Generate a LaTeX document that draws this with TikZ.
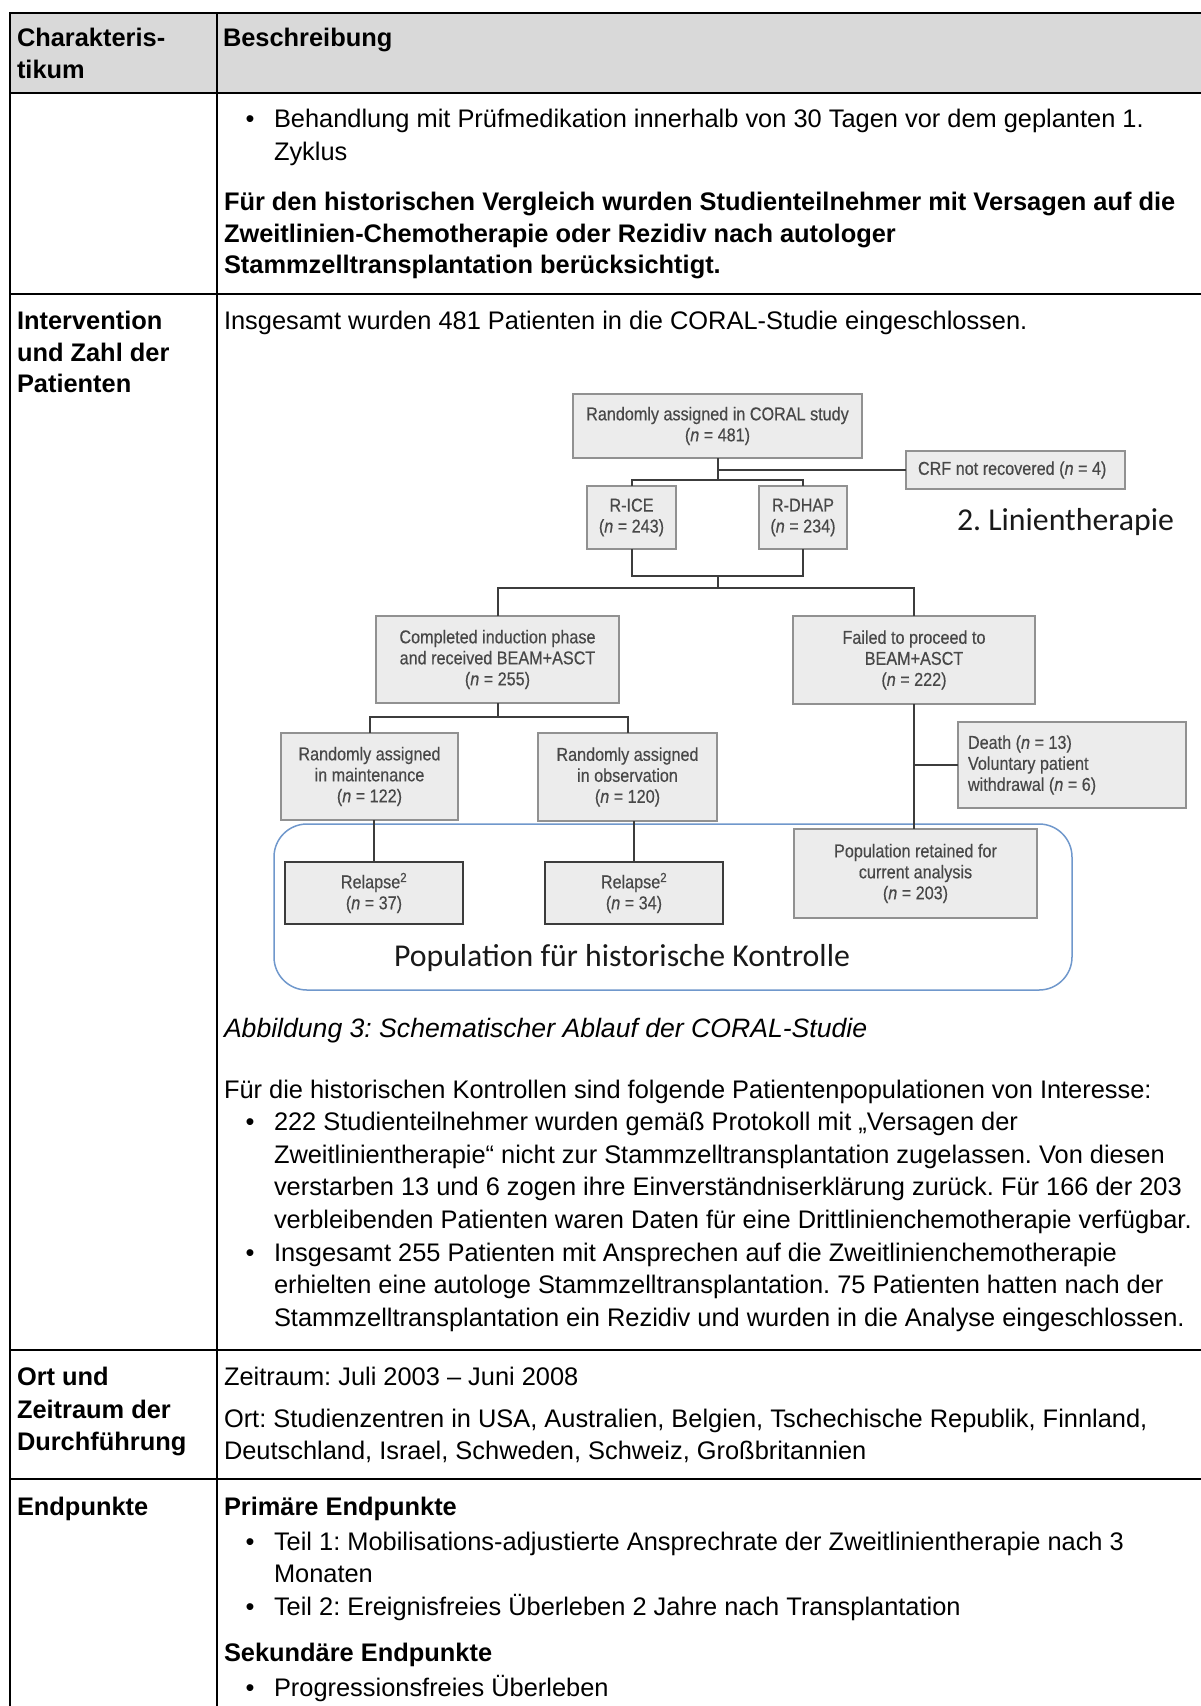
\documentclass[tikz,border=0pt]{standalone}
\usepackage{fontspec}
\setmainfont{Liberation Sans}
\newfontfamily\flowfont{Liberation Sans}[FakeStretch=0.87,FakeBold=0.4]
\newfontfamily\calfont{Carlito}
\usetikzlibrary{calc}
\frenchspacing
\definecolor{hdrfill}{RGB}{217,217,217}
\definecolor{boxfill}{RGB}{236,236,236}
\definecolor{boxline}{RGB}{145,145,145}
\definecolor{flowtext}{RGB}{72,72,72}
\definecolor{connline}{RGB}{60,60,60}
\definecolor{popblue}{RGB}{112,152,204}
\newcommand{\bodysize}{\fontsize{25.4}{32}\selectfont}
\newcommand{\flowsize}{\fontsize{18.6}{21}\selectfont}
\tikzset{
  tline/.style={line width=2pt, draw=black},
  txt/.style={anchor=base west, inner sep=0pt, outer sep=0pt, font=\bodysize},
  btxt/.style={txt, font=\bodysize\bfseries},
  itxt/.style={txt, font=\fontsize{26.6}{32}\selectfont\itshape},
  flowbox/.style={draw=boxline, fill=boxfill, line width=1.3pt, inner sep=0pt, outer sep=0pt,
    anchor=north west, align=center, text=flowtext, font=\flowfont\flowsize},
  relbox/.style={flowbox, draw=connline, line width=2.5pt},
  conn/.style={draw=connline, line width=2pt},
  bigtxt/.style={anchor=base west, inner sep=0pt, outer sep=0pt, font=\calfont\fontsize{31.8}{36}\selectfont, text=black!90}
}
\begin{document}
\frenchspacing
\begin{tikzpicture}[x=1pt,y=-1pt]
\useasboundingbox (0,0) rectangle (1201,1706);
\fill[white] (0,0) rectangle (1201,1706);
% header fill
\fill[hdrfill] (10,13.3) rectangle (1201,93.3);
% table lines
\draw[tline] (9,13.3) -- (1201,13.3);
\draw[tline] (9,93.3) -- (1201,93.3);
\draw[tline] (9,293.5) -- (1201,293.5);
\draw[tline] (9,1350) -- (1201,1350);
\draw[tline] (9,1479.3) -- (1201,1479.3);
\draw[tline] (10,12.3) -- (10,1706);
\draw[tline] (216.7,12.3) -- (216.7,1706);

% header
\node[btxt] (h1a) at (17,46.5) {Charakteris-};
\node[btxt] (h1b) at (17,78.5) {tikum};
\node[btxt] (h2) at (223,46.5) {Beschreibung};

% row 1
\node[txt] (r1b) at (245.6,127.5) {•};
\node[txt] (r1l1) at (274,127.5) {Behandlung mit Prüfmedikation innerhalb von 30 Tagen vor dem geplanten 1.};
\node[txt] (r1l2) at (274,160) {Zyklus};
\node[btxt] (r1l3) at (224,210.5) {Für den historischen Vergleich wurden Studienteilnehmer mit Versagen auf die};
\node[btxt] (r1l4) at (224,242) {Zweitlinien-Chemotherapie oder Rezidiv nach autologer};
\node[btxt] (r1l5) at (224,273.5) {Stammzelltransplantation berücksichtigt.};

% row 2
\node[btxt] (r2a) at (17,329) {Intervention};
\node[btxt] (r2b) at (17,361) {und Zahl der};
\node[btxt] (r2c) at (17,392.7) {Patienten};
\node[txt] (r2t) at (224,329) {Insgesamt wurden 481 Patienten in die CORAL-Studie eingeschlossen.};

% flowchart
\node[draw=popblue, line width=1.5pt, rounded corners=33pt, minimum width=798, minimum height=166,
  anchor=north west, inner sep=0pt, outer sep=0pt] (popframe) at (274,824) {};

\node[flowbox, minimum width=289, minimum height=64] (top) at (573,394)
  {Randomly assigned in CORAL study\\(\textit{n} = 481)};
\node[flowbox, minimum width=219, minimum height=38] (crf) at (906,451)
  {\makebox[195pt][l]{CRF not recovered (\textit{n} = 4)}};
\node[flowbox, minimum width=89, minimum height=63] (rice) at (587,486)
  {R-ICE\\(\textit{n} = 243)};
\node[flowbox, minimum width=88, minimum height=63] (rdhap) at (759,486)
  {R-DHAP\\(\textit{n} = 234)};
\node[flowbox, minimum width=243, minimum height=87] (comp) at (376,616)
  {Completed induction phase\\and received BEAM+ASCT\\(\textit{n} = 255)};
\node[flowbox, minimum width=242, minimum height=88] (fail) at (793,616)
  {Failed to proceed to\\BEAM+ASCT\\(\textit{n} = 222)};
\node[flowbox, minimum width=177, minimum height=87] (maint) at (281,733)
  {Randomly assigned\\in maintenance\\(\textit{n} = 122)};
\node[flowbox, minimum width=179, minimum height=88] (obs) at (538,733)
  {Randomly assigned\\in observation\\(\textit{n} = 120)};
\node[flowbox, minimum width=228, minimum height=86] (death) at (958,722)
  {\makebox[208pt][l]{Death (\textit{n} = 13)}\\\makebox[208pt][l]{Voluntary patient}\\\makebox[208pt][l]{withdrawal (\textit{n} = 6)}};
\node[flowbox, minimum width=243, minimum height=89] (pop) at (794,829)
  {Population retained for\\current analysis\\(\textit{n} = 203)};
\node[relbox, minimum width=178, minimum height=62] (rel1) at (285,862)
  {Relapse\textsuperscript{2}\\(\textit{n} = 37)};
\node[relbox, minimum width=178, minimum height=62] (rel2) at (545,862)
  {Relapse\textsuperscript{2}\\(\textit{n} = 34)};

\coordinate (j1) at (717.5,480);
\coordinate (j2) at (717.5,576);
\coordinate (j3) at (717.5,588);
\coordinate (j4) at (497.5,717);

\draw[conn] (top.south) -- (j1);
\draw[conn] (top.south |- crf.west) -- (crf.west);
\draw[conn] (rice.north) |- (j1) -| (rdhap.north);
\draw[conn] (rice.south) |- (j2) -| (rdhap.south);
\draw[conn] (j2) -- (j3);
\draw[conn] (comp.north) |- (j3) -| (fail.north);
\draw[conn] (comp.south) -- (j4);
\draw[conn] (maint.north) |- (j4) -| (obs.north);
\draw[conn] (rel1.north |- maint.south) -- (rel1.north);
\draw[conn] (rel2.north |- obs.south) -- (rel2.north);
\draw[conn] (fail.south) -- (fail.south |- pop.north);
\draw[conn, line width=1.5pt] (fail.south |- death.west) -- (death.west);

\node[bigtxt] (linlabel) at (957,530) {2. Linientherapie};
\node[bigtxt] (poplabel) at (394,966.7) {Population für historische Kontrolle};

% caption and text below
\node[itxt] (cap) at (224,1037) {Abbildung 3: Schematischer Ablauf der CORAL-Studie};
\node[txt] (r2u) at (224,1098) {Für die historischen Kontrollen sind folgende Patientenpopulationen von Interesse:};
\node[txt] (r2b1) at (245.6,1130.5) {•};
\node[txt] (r2l1) at (274,1130.5) {222 Studienteilnehmer wurden gemäß Protokoll mit „Versagen der};
\node[txt] (r2l2) at (274,1163) {Zweitlinientherapie“ nicht zur Stammzelltransplantation zugelassen. Von diesen};
\node[txt] (r2l3) at (274,1195.5) {verstarben 13 und 6 zogen ihre Einverständniserklärung zurück. Für 166 der 203};
\node[txt] (r2l4) at (274,1228) {verbleibenden Patienten waren Daten für eine Drittlinienchemotherapie verfügbar.};
\node[txt] (r2b2) at (245.6,1261) {•};
\node[txt] (r2l5) at (274,1261) {Insgesamt 255 Patienten mit Ansprechen auf die Zweitlinienchemotherapie};
\node[txt] (r2l6) at (274,1293.5) {erhielten eine autologe Stammzelltransplantation. 75 Patienten hatten nach der};
\node[txt] (r2l7) at (274,1326) {Stammzelltransplantation ein Rezidiv und wurden in die Analyse eingeschlossen.};

% row 3
\node[btxt] (r3a) at (17,1385.7) {Ort und};
\node[btxt] (r3b) at (17,1418.3) {Zeitraum der};
\node[btxt] (r3c) at (17,1450.9) {Durchführung};
\node[txt] (r3l1) at (224,1385.7) {Zeitraum: Juli 2003 – Juni 2008};
\node[txt] (r3l2) at (224,1427.3) {Ort: Studienzentren in USA, Australien, Belgien, Tschechische Republik, Finnland,};
\node[txt] (r3l3) at (224,1459) {Deutschland, Israel, Schweden, Schweiz, Großbritannien};

% row 4
\node[btxt] (r4a) at (17,1515.7) {Endpunkte};
\node[btxt] (r4h1) at (224,1515.7) {Primäre Endpunkte};
\node[txt] (r4b1) at (245.6,1550) {•};
\node[txt] (r4l1) at (274,1550) {Teil 1: Mobilisations-adjustierte Ansprechrate der Zweitlinientherapie nach 3};
\node[txt] (r4l2) at (274,1582.5) {Monaten};
\node[txt] (r4b2) at (245.6,1615.5) {•};
\node[txt] (r4l3) at (274,1615.5) {Teil 2: Ereignisfreies Überleben 2 Jahre nach Transplantation};
\node[btxt] (r4h2) at (224,1661.5) {Sekundäre Endpunkte};
\node[txt] (r4b3) at (245.6,1696) {•};
\node[txt] (r4l4) at (274,1696) {Progressionsfreies Überleben};
\end{tikzpicture}
\end{document}
